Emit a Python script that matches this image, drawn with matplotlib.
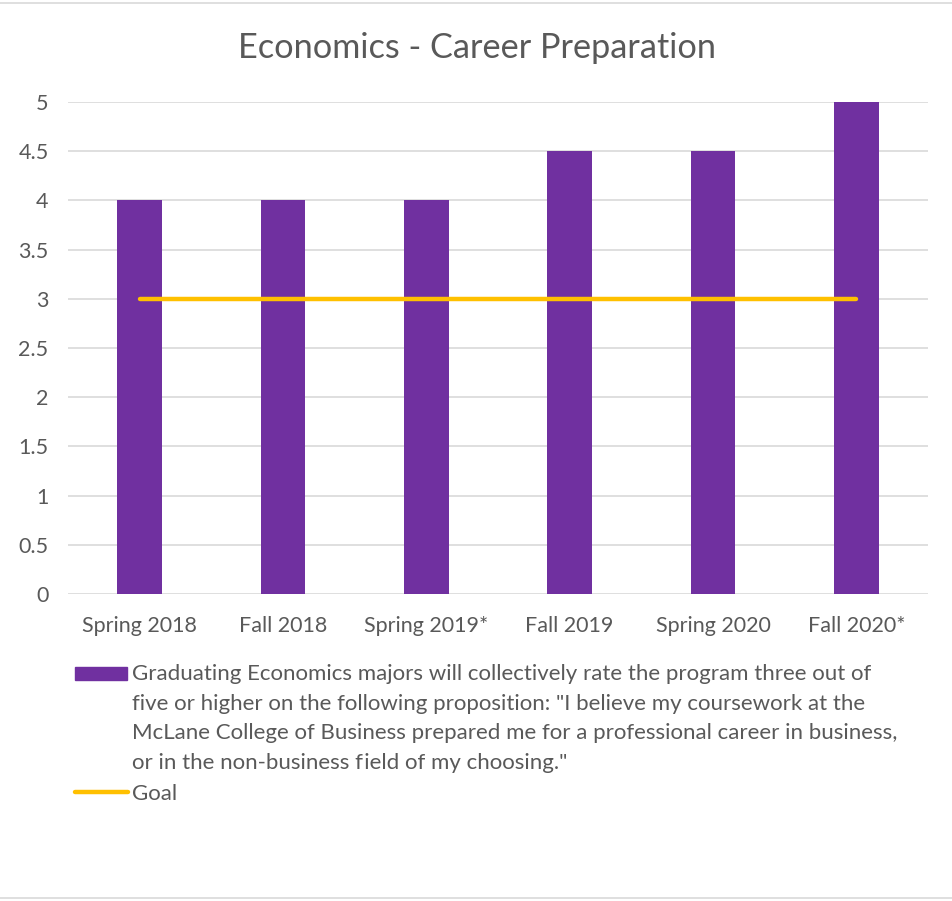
import matplotlib.pyplot as plt
from matplotlib.patches import Rectangle
from matplotlib.lines import Line2D

# data
semesters = ['Spring 2018', 'Fall 2018', 'Spring 2019*', 'Fall 2019', 'Spring 2020', 'Fall 2020*']
ratings = [4, 4, 4, 4.5, 4.5, 5]
goal = [3, 3, 3, 3, 3, 3]
yticks = [0, 0.5, 1, 1.5, 2, 2.5, 3, 3.5, 4, 4.5, 5]
title = 'Economics - Career Preparation'
bar_label = ['Graduating Economics majors will collectively rate the program three out of',
             'five or higher on the following proposition: "I believe my coursework at the',
             'McLane College of Business prepared me for a professional career in business,',
             'or in the non-business f\u200aield of my choosing."']
goal_label = 'Goal'

plt.rcParams['font.family'] = ['Lato', 'DejaVu Sans']
txt = '#595959'
purple = '#7030A0'
gold = '#FFC000'

W, H = 953, 901
fig = plt.figure(figsize=(W / 100, H / 100), dpi=100)
ax = fig.add_axes([68 / W, (H - 594) / H, (928 - 68) / W, (594 - 102) / H])

x = range(len(semesters))
ax.bar(x, ratings, width=0.31, color=purple, zorder=2)
ax.plot(x, goal, color=gold, lw=3.2, solid_capstyle='round', zorder=3)

ax.set_xlim(-0.5, len(semesters) - 0.5)
ax.set_ylim(0, 5)
ax.set_yticks(yticks)
ax.set_yticklabels([f'{v:g}' for v in yticks])
ax.set_xticks(list(x))
ax.set_xticklabels(semesters)
ax.tick_params(axis='both', length=0, labelsize=15.5, colors=txt)
ax.tick_params(axis='y', pad=14)
ax.tick_params(axis='x', pad=16)
ax.grid(axis='y', color='#D9D9D9', lw=1.2, zorder=0)
for s in ax.spines.values():
    s.set_visible(False)

fig.text(477 / W, 1 - 48 / H, title, ha='center', va='center', fontsize=24.7, color=txt)

# legend drawn by hand below the axes
fig.patches.append(Rectangle((75 / W, 1 - 680 / H), 52 / W, 13 / H,
                             transform=fig.transFigure, color=purple))
for i, line in enumerate(bar_label):
    fig.text(132 / W, 1 - (672 + 29.7 * i) / H, line, ha='left', va='center_baseline',
             fontsize=16, color=txt)
fig.lines.append(Line2D([75 / W, 128 / W], [1 - 792 / H, 1 - 792 / H],
                        transform=fig.transFigure, color=gold, lw=3.2,
                        solid_capstyle='round'))
fig.text(132 / W, 1 - 792 / H, goal_label, ha='left', va='center_baseline',
         fontsize=16, color=txt)

# thin frame lines at top and bottom
for yy in (3, 898):
    fig.lines.append(Line2D([0, 1], [1 - yy / H, 1 - yy / H],
                            transform=fig.transFigure, color='#D9D9D9', lw=1.2))

fig.savefig('out.png', dpi=100, facecolor='white')
